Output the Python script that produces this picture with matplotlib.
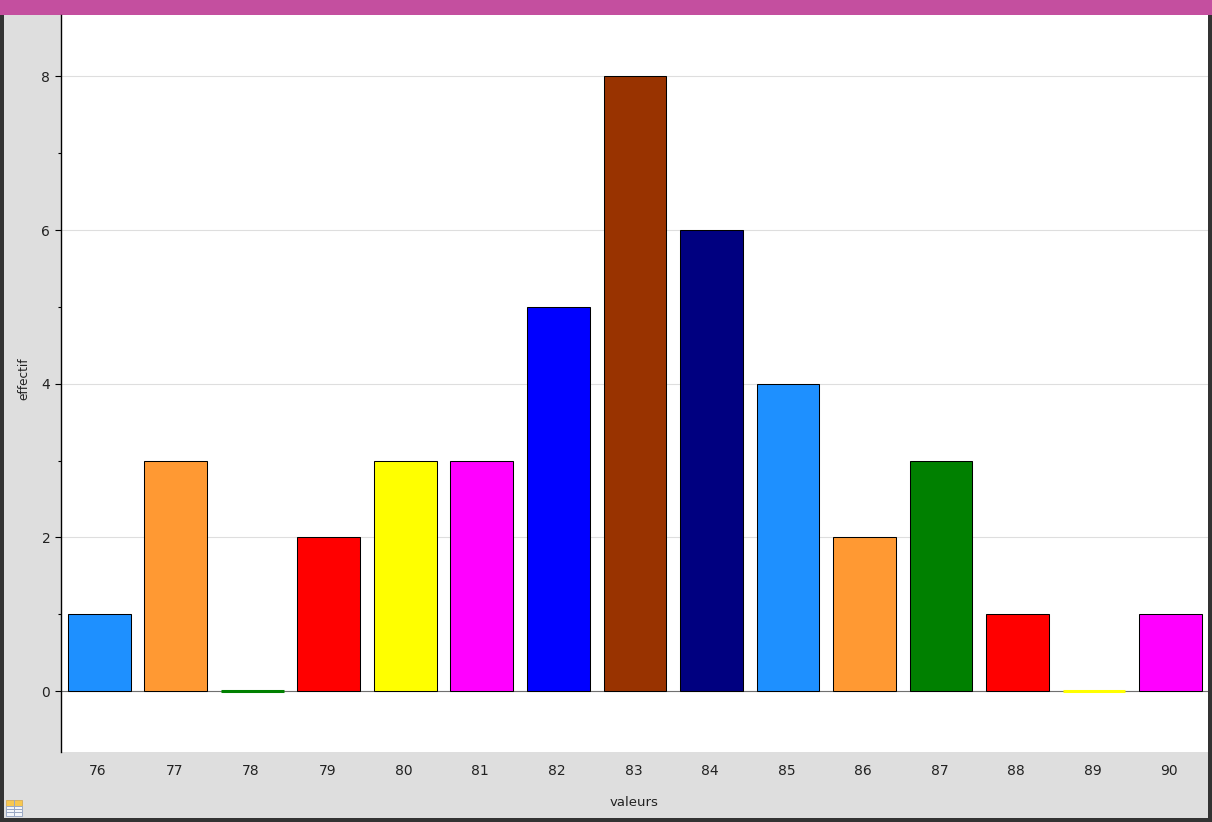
import matplotlib
matplotlib.use("Agg")
import matplotlib.pyplot as plt
from matplotlib.patches import Rectangle
from matplotlib.transforms import ScaledTranslation

valeurs = [76, 77, 78, 79, 80, 81, 82, 83, 84, 85, 86, 87, 88, 89, 90]
effectif = [1, 3, 0, 2, 3, 3, 5, 8, 6, 4, 2, 3, 1, 0, 1]
couleurs = ["#1E90FF", "#FF9933", "#008000", "#FF0000", "#FFFF00", "#FF00FF", "#0000FF",
            "#993300", "#000080", "#1E90FF", "#FF9933", "#008000", "#FF0000", "#FFFF00", "#FF00FF"]
yticks_major = [0, 2, 4, 6, 8]
yticks_minor = [1, 3, 5, 7]

W, H = 1212, 822
fig = plt.figure(figsize=(W / 100, H / 100), dpi=100, facecolor="#333333")
plt.rcParams["font.family"] = "DejaVu Sans"


def px_rect(x0, y0, x1, y1, color, **kw):
    fig.patches.append(Rectangle((x0 / W, 1 - y1 / H), (x1 - x0) / W, (y1 - y0) / H,
                                 transform=fig.transFigure, facecolor=color,
                                 edgecolor=kw.pop("edgecolor", "none"),
                                 linewidth=kw.pop("linewidth", 0), **kw))


px_rect(4, 14, 1208, 818, "#DEDEDE")
px_rect(0, 0, W, 15, "#C44F9F")

# table icon
px_rect(6, 800, 22, 806, "#F8C850", edgecolor="#D8B060", linewidth=0.7)
px_rect(6, 806, 22, 816, "#F4F6FA", edgecolor="#9AA8C4", linewidth=0.7)
for yy in (809, 812):
    px_rect(6, yy, 22, yy + 1, "#9AA8C4")
px_rect(13.5, 800, 14.5, 816, "#9AA8C4")

ax = fig.add_axes([61 / W, 1 - 752 / H, (1208 - 61) / W, (752 - 15) / H], facecolor="white")
ax.set_zorder(2)
ax.set_xlim(75.50, 90.49)
ax.set_ylim(-0.794, 8.8)
ax.set_axisbelow(True)

edge = ["black" if v > 0 else c for v, c in zip(effectif, couleurs)]
lw = [0.75 if v > 0 else 2.2 for v in effectif]
ax.axhline(0, color="#707070", linewidth=0.8, zorder=1)
ax.bar(valeurs, effectif, width=0.82, color=couleurs, edgecolor=edge, linewidth=lw, zorder=2)

ax.set_yticks(yticks_major)
ax.set_yticks(yticks_minor, minor=True)
ax.set_xticks(valeurs)
ax.grid(axis="y", which="major", color="#DEDEDE", linewidth=0.8)
ax.tick_params(axis="y", which="major", length=4.3, width=0.8, pad=3.5, labelsize=10,
               labelcolor="#222222")
ax.tick_params(axis="y", which="minor", length=2.2, width=0.8)
ax.tick_params(axis="x", length=0, pad=8.5, labelsize=10, labelcolor="#222222")
shift = ScaledTranslation(-1.5 / 100, 0, fig.dpi_scale_trans)
for lab in ax.get_xticklabels():
    lab.set_transform(lab.get_transform() + shift)

for s in ("top", "right", "bottom"):
    ax.spines[s].set_visible(False)
ax.spines["left"].set_linewidth(1.0)
ax.spines["left"].set_position(("outward", -0.1))

fig.text(634 / W, 1 - 802 / H, "valeurs", ha="center", va="center", fontsize=9.5, color="#222222")
fig.text(24 / W, 1 - 379 / H, "effectif", ha="center", va="center", rotation=90,
         fontsize=8.7, color="#222222")

fig.savefig("out.png", dpi=100, facecolor=fig.get_facecolor())
